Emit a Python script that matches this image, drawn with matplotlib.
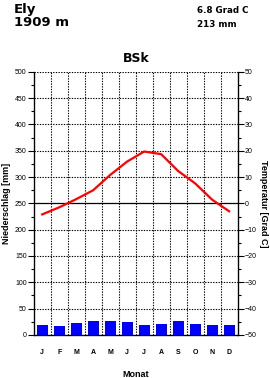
import matplotlib
matplotlib.use("Agg")
import matplotlib.pyplot as plt
import numpy as np

plt.rcParams['font.family'] = ['Liberation Sans', 'DejaVu Sans']

# climate data for Ely
months = ['J', 'F', 'M', 'A', 'M', 'J', 'J', 'A', 'S', 'O', 'N', 'D']
precip = [18, 16, 23, 27, 27, 25, 18, 21, 27, 21, 18, 18]
temp = [-4.2, -1.5, 1.6, 5.0, 10.8, 15.9, 19.7, 18.7, 12.3, 7.6, 1.4, -3.0]

station = "Ely"
height = "1909 m"
mean_temp = "6.8 Grad C"
total_precip = "213 mm"
climate = "BSk"

fig = plt.figure(figsize=(2.7, 3.78), dpi=100)
ax = fig.add_axes([0.125, 0.114, 0.755, 0.696])
ax2 = ax.twinx()

x = np.arange(len(months))

# bars for precipitation
ax.bar(x, precip, width=0.66, color='#0000ff', zorder=3)
ax.set_xlim(-0.5, 11.5)
ax.set_ylim(0, 500)
ax.set_yticks(np.arange(0, 501, 50))
ax.set_yticks(np.arange(25, 500, 50), minor=True)
ax.set_xticks(x)
ax.set_xticklabels(months, fontsize=5, fontweight='bold')
ax.tick_params(axis='x', length=0, pad=10)
ax.tick_params(axis='y', which='major', labelsize=5, length=4, width=0.8, pad=1)
ax.tick_params(axis='y', which='minor', length=2.5, width=0.8)

# grid
for v in np.arange(50, 501, 50):
    if v == 250:
        ax.axhline(v, color='black', lw=0.9, zorder=2)
    else:
        ax.axhline(v, color='black', lw=0.8, ls=(0, (1.2, 1.2)), zorder=1)
for b in np.arange(0.5, 11, 1):
    ax.axvline(b, color='black', lw=0.8, ls=(0, (1.2, 1.2)), zorder=1)

ax.spines['top'].set_visible(False)
for s in ['left', 'bottom']:
    ax.spines[s].set_linewidth(0.9)

ax.set_ylabel("Niederschlag [mm]", fontsize=6.5, fontweight='bold', labelpad=3)
ax.set_xlabel("Monat", fontsize=6.5, fontweight='bold', labelpad=10)

# temperature line
ax2.plot(x, temp, color='#ff0000', lw=1.6, zorder=4)
ax2.set_ylim(-50, 50)
ax2.set_yticks(np.arange(-50, 51, 10))
ax2.set_yticks(np.arange(-45, 50, 10), minor=True)
ax2.tick_params(axis='y', which='major', labelsize=5, length=4, width=0.8, pad=1)
ax2.tick_params(axis='y', which='minor', length=2.5, width=0.8)
ax2.spines['top'].set_visible(False)
ax2.spines['right'].set_linewidth(0.9)
ax2.set_ylabel("Temperatur [Grad C]", fontsize=6.5, fontweight='bold',
               rotation=-90, labelpad=8)

# header texts
hfont = ['DejaVu Sans']
fig.text(0.052, 0.992, station, fontsize=9.5, fontweight='bold', va='top', family=hfont)
fig.text(0.052, 0.957, height, fontsize=9.5, fontweight='bold', va='top', family=hfont)
fig.text(0.728, 0.985, mean_temp, fontsize=6.3, fontweight='bold', va='top', family=hfont)
fig.text(0.728, 0.947, total_precip, fontsize=6.3, fontweight='bold', va='top', family=hfont)
fig.text(0.505, 0.845, climate, fontsize=9, fontweight='bold', ha='center', va='center',
         family=hfont)

fig.savefig("out.png", dpi=100)
